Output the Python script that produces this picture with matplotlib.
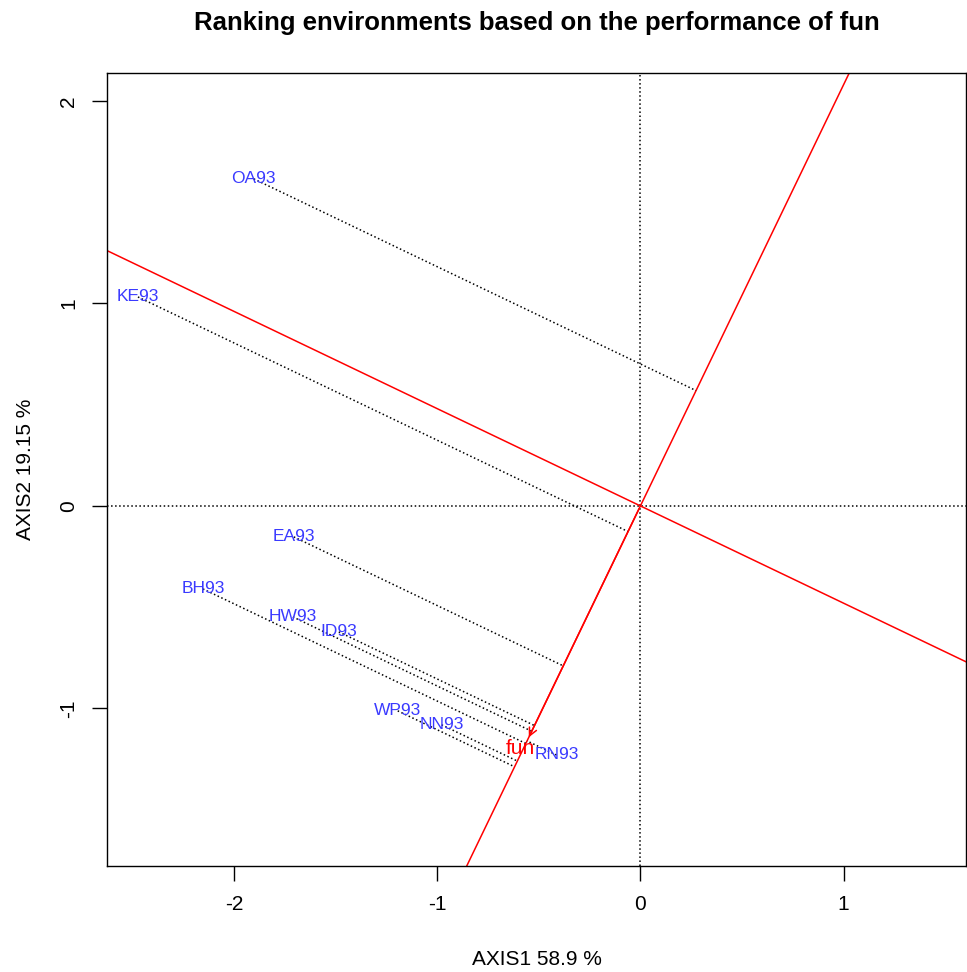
import numpy as np
import matplotlib
matplotlib.use("Agg")
import matplotlib.pyplot as plt

plt.rcParams['font.family'] = ['Liberation Sans', 'DejaVu Sans']
plt.rcParams['axes.unicode_minus'] = False

# environment scores (AXIS1, AXIS2)
env_names = ["OA93", "KE93", "EA93", "BH93", "HW93", "ID93", "WP93", "NN93", "RN93"]
env_x = [-1.902, -2.472, -1.705, -2.152, -1.710, -1.484, -1.194, -0.978, -0.413]
env_y = [1.615, 1.032, -0.153, -0.410, -0.548, -0.622, -1.012, -1.081, -1.230]

# genotype of interest
gen_name = "fun"
gen_x = -0.555
gen_y = -1.155

xlim = (-2.624, 1.602)
ylim = (-1.778, 2.138)

fig = plt.figure(figsize=(9.67, 9.72), dpi=100)
ax = fig.add_axes([0.1107, 0.1091, 0.8883, 0.8158])

# axes through origin
ax.axhline(0, color='black', linestyle=':', linewidth=1.1)
ax.axvline(0, color='black', linestyle=':', linewidth=1.1)

# genotype axis and its perpendicular
slope = gen_y / gen_x
xs = np.array([-10, 10])
ax.plot(xs, slope * xs, color='red', linewidth=1.1)
ax.plot(xs, -xs / slope, color='red', linewidth=1.1)

# projections of the environments onto the genotype axis
u = np.array([gen_x, gen_y]) / np.hypot(gen_x, gen_y)
for x, y in zip(env_x, env_y):
    d = x * u[0] + y * u[1]
    ax.plot([x, d * u[0]], [y, d * u[1]], color='black', linestyle=':', linewidth=1.1)

for name, x, y in zip(env_names, env_x, env_y):
    ax.text(x, y, name, color='#3a3aff', fontsize=12.5, ha='center', va='center')

ax.annotate("", xy=(gen_x, gen_y), xytext=(0, 0),
            arrowprops=dict(arrowstyle='->', color='red', lw=1.1, mutation_scale=14))
ax.annotate(gen_name, xy=(gen_x, gen_y), xytext=(-5, -6), textcoords='offset points',
            color='red', fontsize=15, ha='center', va='center')

ax.set_xlim(xlim)
ax.set_ylim(ylim)
ax.set_xticks([-2, -1, 0, 1])
ax.set_yticks([-1, 0, 1, 2])
ax.set_yticklabels(['-1', '0', '1', '2'], rotation=90, va='center')
ax.tick_params(labelsize=15, length=11, width=1, pad=10)
for s in ax.spines.values():
    s.set_linewidth(1)

ax.set_xlabel("AXIS1 58.9 %", fontsize=15, labelpad=26)
ax.set_ylabel("AXIS2 19.15 %", fontsize=15, labelpad=17)
ax.set_title("Ranking environments based on the performance of fun",
             fontsize=18.5, fontweight='bold', pad=31)

fig.savefig("out.png", dpi=100)
